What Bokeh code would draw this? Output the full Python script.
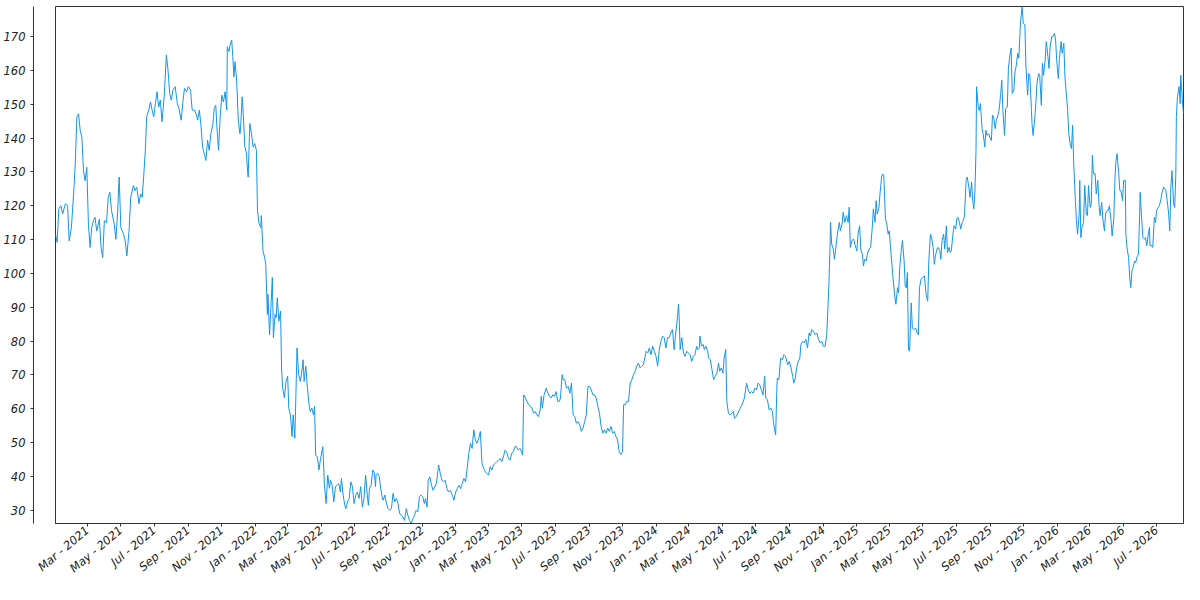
import pandas as pd
from bokeh.plotting import figure
from bokeh.layouts import row
from bokeh.models import (Range1d, LinearAxis, SingleIntervalTicker,
                          MonthsTicker, DatetimeTickFormatter, ColumnDataSource)
from bokeh.embed import file_html
from bokeh.resources import INLINE

start_date = "2021-01-02"

# (days since start_date, value) readings, grouped by period
part_2021a = [(0,111.6),(3,109.2),(6,119.1),(10,120.0),(13,117.6),(18,120.6),(22,120.0),(25,109.6),(29,113.6),(33,123.5),(36,132.4),(39,146.3),(42,147.2),(45,142.3),(48,140.3),(51,130.4),(54,127.4),(57,131.4),(60,114.6),(63,107.7),(66,113.6),(69,115.6),(72,116.6),(75,112.6),(80,116.0),(83,107.7),(86,104.7),(89,115.6),(93,115.0),(96,122.5),(99,124.0),(102,118.6),(107,114.6),(110,110.1),(113,117.6),(116,128.5),(119,113.6),(124,111.6),(127,109.6),(130,105.2),(134,112.6),(137,122.5),(142,126.0),(145,124.5),(148,125.5),(152,120.6),(155,123.5),(158,122.5),(161,129.5),(164,137.4),(166,146.3),(170,148.3),(173,150.7),(176,148.3),(179,146.3),(182,150.2),(185,153.7),(188,149.2),(191,151.2),(194,144.8),(198,152.2),(202,164.6),(205,160.1),(208,153.2),(211,151.2),(214,154.2),(218,155.2),(222,150.2),(225,148.7),(229,145.3),(232,150.7),(235,154.7),(239,153.7),(242,155.2),(246,154.2),(249,148.3),(253,148.3),(256,147.2),(259,145.3),(262,148.3),(265,143.8),(268,137.4),(271,135.4),(274,133.4),(277,139.4),(280,136.4),(283,141.3),(287,144.3)]

part_2021b = [(289,148.7),(292,149.7),(294,143.3),(297,136.4),(300,146.3),(303,152.7),(306,150.7),(309,153.7),(312,148.3),(313,167.0),(316,165.6),(318,167.5),(321,169.0),(323,164.1),(325,158.1),(327,162.6),(330,157.2),(333,145.3),(336,141.3),(337,142.3),(340,152.2),(342,147.3),(345,137.4),(348,135.4),(349,132.4),(351,128.5),(354,144.3),(357,141.3),(360,137.4),(363,138.4),(366,136.4),(368,118.6),(371,114.6),(374,113.6),(375,117.1),(378,106.7),(381,104.7),(383,102.7),(386,87.9),(387,93.8),(390,81.9),(393,91.8),(395,98.8),(397,81.0),(400,87.9),(402,86.9),(404,92.8),(407,85.9),(410,88.9),(412,71.1),(414,66.1),(417,63.2),(420,68.1),(423,69.6),(425,60.2),(428,58.2),(431,51.8),(433,58.2),(436,51.3),(438,64.2),(440,78.0),(443,70.1),(446,68.1),(448,70.1),(451,74.5),(453,68.1),(456,72.6),(459,66.1),(462,61.2),(464,59.2),(467,60.2),(470,58.2),(472,60.7),(474,46.3),(477,45.8),(480,41.9),(483,45.4),(487,48.8),(490,37.4),(493,32.0),(496,40.4),(499,36.5),(501,38.9),(504,37.4),(507,32.5),(510,37.0),(513,37.4),(516,37.9),(519,35.4),(521,39.4),(524,34.5),(527,31.5),(529,30.5),(532,32.5),(535,33.5),(538,38.4),(541,37.0),(544,32.0),(547,34.5),(550,35.4),(553,33.5),(556,37.0),(559,31.0),(562,33.5),(565,40.4),(568,34.5),(570,31.5),(572,36.5),(575,37.4),(578,41.9),(581,41.0),(583,37.0)]

part_2022 = [(584,40.4),(587,40.9),(590,39.9),(592,36.9),(595,34.0),(597,33.0),(600,34.5),(603,32.0),(606,30.5),(609,30.0),(612,30.5),(615,35.0),(618,32.5),(621,33.5),(624,32.0),(627,29.0),(630,28.5),(633,28.0),(636,27.0),(639,30.5),(642,28.5),(645,27.0),(648,26.1),(651,27.5),(654,28.5),(657,30.0),(660,29.5),(663,34.0),(666,34.5),(669,34.0),(672,32.0),(674,33.5),(677,31.0),(679,38.9),(682,39.9),(685,37.4),(688,35.9),(691,36.9),(694,37.9),(698,43.4),(701,40.9),(704,38.9),(707,38.4),(710,38.9),(713,36.4),(716,35.4),(719,35.9),(723,34.5),(726,33.0),(729,35.4),(732,36.4),(735,37.4),(738,36.4),(741,37.9),(744,39.4),(747,38.4),(750,42.4),(753,46.8),(756,49.8),(759,48.3),(762,53.8),(765,50.8),(768,49.8),(771,51.3),(774,53.3),(777,43.9),(780,42.4),(783,41.4),(786,40.9),(789,40.4),(792,42.9),(795,41.9),(798,43.4),(801,43.9),(804,44.4),(807,44.8),(810,45.3),(813,44.4),(816,45.8),(819,47.8),(822,47.3),(825,45.3),(828,44.8),(831,46.8),(834,47.3),(837,48.8),(840,48.8),(843,47.8),(846,48.3),(849,47.3),(851,46.3),(853,64.1),(856,63.2),(859,62.2),(862,61.2),(865,60.7),(868,60.2),(871,58.7),(874,59.2)]

part_2023 = [(877,58.2),(880,57.7),(883,59.7),(885,63.7),(887,60.2),(890,64.1),(894,66.1),(897,64.6),(900,63.7),(903,63.2),(906,64.1),(909,63.7),(912,65.1),(915,62.2),(918,62.2),(920,63.2),(923,70.1),(925,68.6),(928,68.6),(931,66.1),(934,66.6),(937,64.6),(940,67.6),(943,58.2),(946,57.7),(949,55.7),(952,56.2),(955,55.3),(958,53.3),(961,54.3),(964,56.2),(967,58.2),(970,66.6),(973,66.6),(976,65.6),(979,64.1),(982,64.1),(985,63.2),(988,60.7),(991,58.7),(994,54.8),(997,52.8),(1000,53.8),(1003,52.8),(1006,54.3),(1009,53.3),(1012,54.8),(1015,52.8),(1018,53.3),(1021,51.8),(1024,50.8),(1027,47.3),(1030,46.5),(1033,47.3),(1035,61.2),(1038,61.2),(1041,62.2),(1044,62.2),(1047,67.6),(1050,68.6),(1053,70.1),(1056,71.1),(1059,72.6),(1062,73.5),(1065,72.1),(1068,72.6),(1071,73.0),(1076,77.0),(1079,76.5),(1082,78.0),(1085,76.0),(1088,78.5),(1091,77.0),(1094,75.5),(1097,72.6),(1100,77.5),(1103,80.0),(1106,81.5),(1109,81.0),(1112,78.0),(1115,81.0),(1118,81.0),(1121,82.4),(1124,83.4),(1127,77.5),(1130,82.4),(1133,86.9),(1135,90.9),(1136,87.9),(1138,77.5),(1141,81.0),(1144,76.5),(1147,75.5),(1150,77.0),(1153,76.5),(1156,76.0),(1159,74.0),(1162,75.5),(1165,76.0),(1168,78.5)]

part_2024 = [(1170,77.5),(1173,78.0),(1174,81.5),(1177,78.5),(1180,79.0),(1182,77.5),(1185,78.5),(1188,77.0),(1190,75.0),(1193,74.5),(1196,71.6),(1199,68.6),(1202,69.6),(1205,70.6),(1208,73.5),(1210,71.1),(1213,72.1),(1216,70.6),(1218,75.0),(1221,77.5),(1223,62.2),(1226,58.7),(1229,58.2),(1232,58.7),(1235,59.2),(1237,57.2),(1240,57.7),(1243,58.7),(1246,59.7),(1249,60.7),(1252,61.7),(1255,63.2),(1259,67.6),(1262,65.6),(1265,64.6),(1268,65.1),(1271,64.6),(1274,66.1),(1277,65.6),(1280,67.6),(1283,67.1),(1286,65.6),(1289,64.1),(1292,69.6),(1294,63.2),(1297,62.7),(1300,59.7),(1303,60.2),(1306,59.2),(1308,56.2),(1310,53.8),(1312,52.3),(1314,65.1),(1315,69.1),(1318,68.6),(1321,75.0),(1324,74.5),(1327,76.0),(1330,75.5),(1334,73.0),(1337,74.0),(1340,72.1),(1343,69.6),(1345,67.6),(1348,69.1),(1350,72.1),(1353,74.0),(1356,75.0),(1358,79.0),(1361,80.0),(1364,79.5),(1367,80.5),(1370,78.0),(1373,82.4),(1375,81.5),(1378,83.4),(1381,82.9),(1384,81.9),(1387,82.4),(1390,80.5),(1393,79.5),(1396,80.0),(1399,78.5),(1402,78.5),(1405,81.5),(1407,88.9),(1409,96.8),(1411,107.7),(1412,115.1),(1414,108.7),(1417,107.2),(1419,104.2),(1421,106.7),(1424,111.1),(1428,115.1),(1430,112.6),(1433,114.6),(1435,118.1),(1438,115.1),(1441,117.1),(1444,115.1),(1446,119.6),(1448,107.7),(1451,109.7),(1454,110.2),(1457,108.2),(1460,106.7)]

part_2025 = [(1462,111.6),(1465,114.1),(1467,107.2),(1470,105.7),(1472,102.2),(1474,104.2),(1477,103.7),(1479,105.7),(1482,107.2),(1485,107.7),(1488,113.6),(1490,119.1),(1493,115.1),(1495,121.5),(1497,117.6),(1500,119.1),(1502,123.5),(1505,128.5),(1507,129.4),(1509,128.9),(1512,116.1),(1514,115.1),(1517,111.6),(1519,112.6),(1521,108.2),(1524,102.2),(1526,98.3),(1529,93.3),(1531,90.9),(1534,95.8),(1536,94.3),(1538,101.7),(1541,107.2),(1543,109.7),(1546,103.7),(1548,96.3),(1550,95.8),(1552,100.3),(1554,77.5),(1556,77.0),(1559,91.3),(1561,83.9),(1564,83.4),(1567,83.9),(1570,82.4),(1572,81.9),(1574,95.8),(1577,98.3),(1580,98.8),(1583,99.3),(1586,93.8),(1589,91.8),(1591,103.7),(1594,111.6),(1596,110.6),(1599,107.7),(1601,102.7),(1603,105.2),(1606,107.2),(1608,107.7),(1611,106.7),(1613,104.2),(1615,109.7),(1618,111.6),(1620,107.2),(1623,114.1),(1625,106.2),(1628,107.7),(1630,106.2),(1632,106.7),(1635,111.6),(1637,114.1),(1640,113.1),(1642,116.1),(1644,116.6),(1647,115.1),(1649,113.1),(1652,115.1),(1654,115.6),(1656,117.1),(1659,127.5),(1661,128.5),(1664,125.5),(1666,122.5),(1669,127.0),(1671,121.5),(1673,119.1),(1675,124.0),(1677,136.4),(1678,155.2),(1681,149.2),(1683,148.2),(1685,150.2),(1688,142.8),(1690,141.3),(1693,137.4),(1695,142.3),(1697,140.8),(1700,141.3),(1702,140.3),(1705,139.3),(1707,146.8),(1709,146.3),(1712,142.8),(1714,145.3),(1717,146.8),(1719,148.2),(1722,153.2),(1724,157.1),(1726,148.2),(1729,140.8),(1731,148.7),(1734,149.2),(1736,160.6),(1738,163.6),(1741,166.6),(1743,153.2),(1746,154.2),(1748,159.6),(1750,161.1),(1753,165.1)]

part_2026 = [(1755,163.6),(1758,174.0),(1761,178.9),(1763,174.0),(1766,173.5),(1768,161.1),(1771,152.7),(1773,159.1),(1775,158.6),(1778,148.2),(1779,144.3),(1781,140.8),(1784,145.8),(1786,150.2),(1788,156.2),(1791,159.1),(1793,158.6),(1796,149.7),(1798,162.1),(1800,158.6),(1803,163.1),(1805,168.5),(1808,164.1),(1810,160.6),(1812,167.0),(1815,170.0),(1817,170.0),(1820,171.0),(1822,169.0),(1824,163.1),(1827,157.6),(1829,163.6),(1832,168.5),(1834,165.1),(1837,168.0),(1839,158.1),(1841,154.2),(1844,148.2),(1846,141.3),(1849,137.9),(1851,136.9),(1853,143.8),(1855,132.4),(1858,121.5),(1860,115.6),(1862,111.6),(1865,117.6),(1866,127.5),(1868,110.6),(1870,113.6),(1873,115.1),(1875,126.0),(1878,117.6),(1880,117.1),(1882,126.0),(1885,119.5),(1887,120.5),(1889,134.9),(1891,129.5),(1894,129.5),(1896,123.5),(1899,127.5),(1901,120.5),(1903,117.1),(1906,121.0),(1908,116.1),(1911,112.6),(1913,117.6),(1916,118.6),(1918,118.6),(1920,120.0),(1923,115.6),(1925,111.1),(1928,116.1),(1930,127.5),(1932,133.4),(1934,135.4),(1937,129.5),(1939,124.5),(1941,124.5),(1944,121.5),(1946,127.5),(1949,127.5),(1950,111.6),(1952,107.7),(1955,104.7),(1957,98.8),(1959,95.8),(1961,100.8),(1963,101.7),(1966,103.7),(1968,103.2),(1970,104.7),(1973,105.7),(1975,116.6),(1976,124.0),(1979,115.6),(1981,110.6),(1984,110.1),(1986,110.6),(1988,108.2),(1991,111.6),(1993,113.6),(1994,108.2),(1997,108.2),(1999,107.7),(2002,116.6),(2004,115.1),(2006,118.6),(2009,119.5),(2011,120.0),(2014,122.0),(2016,124.0),(2019,125.5),(2021,125.0),(2023,124.5),(2026,120.5),(2028,117.6),(2030,112.6),(2032,125.5),(2034,130.4),(2037,120.5),(2039,119.5),(2041,129.5),(2042,146.3),(2044,152.2),(2047,155.2),(2049,150.2),(2050,158.6),(2053,151.2),(2055,147.2)]

y_tick_interval = 10
x_tick_months = [0, 2, 4, 6, 8, 10]   # Jan, Mar, May, Jul, Sep, Nov
x_tick_format = "%b - %Y"

readings = part_2021a + part_2021b + part_2022 + part_2023 + part_2024 + part_2025 + part_2026
days = [d for d, _ in readings]
values = [v for _, v in readings]
dates = pd.to_datetime(start_date) + pd.to_timedelta(days, unit="D")

source = ColumnDataSource(data=dict(date=dates, value=values))

LINE = "#1496e6"
AXIS = "#333333"
TEXT = "#222222"
FONT = "DejaVu Sans"
H, TOP, BOTTOM = 584, 6, 61

y_range = Range1d(min(values), max(values))

# narrow panel carrying only the offset y axis
ya_fig = figure(width=34, height=H, output_backend="svg", toolbar_location=None,
                x_range=Range1d(0, 1), y_range=y_range,
                x_axis_location=None, y_axis_location=None,
                min_border_left=33, min_border_right=0,
                min_border_top=TOP, min_border_bottom=BOTTOM)
ya_fig.outline_line_color = None
ya_fig.background_fill_color = "white"
ya_fig.border_fill_color = "white"
ya_fig.xgrid.visible = False
ya_fig.ygrid.visible = False

yaxis = LinearAxis(ticker=SingleIntervalTicker(interval=y_tick_interval))
yaxis.axis_line_color = AXIS
yaxis.major_tick_line_color = AXIS
yaxis.minor_tick_line_color = None
yaxis.major_tick_out = 3
yaxis.major_tick_in = 0
yaxis.major_label_standoff = 4
yaxis.major_label_text_font = FONT
yaxis.major_label_text_font_style = "italic"
yaxis.major_label_text_font_size = "11.5px"
yaxis.major_label_text_color = TEXT
ya_fig.add_layout(yaxis, "left")

# main chart (its left border leaves room for the first rotated date label)
p = figure(width=1150, height=H, output_backend="svg", toolbar_location=None,
           x_axis_type="datetime", y_axis_location=None,
           x_range=Range1d(dates.min(), dates.max()), y_range=y_range,
           min_border_left=21, min_border_right=1,
           min_border_top=TOP, min_border_bottom=BOTTOM)
p.background_fill_color = "white"
p.border_fill_color = "white"
p.outline_line_color = AXIS
p.outline_line_width = 1
p.xgrid.visible = False
p.ygrid.visible = False

xa = p.xaxis[0]
xa.ticker = MonthsTicker(months=x_tick_months)
xa.formatter = DatetimeTickFormatter(days=x_tick_format, months=x_tick_format,
                                     years=x_tick_format)
xa.axis_line_color = AXIS
xa.major_tick_line_color = AXIS
xa.minor_tick_line_color = None
xa.major_tick_out = 3
xa.major_tick_in = 0
xa.major_label_standoff = 2
xa.major_label_orientation = 0.7
xa.major_label_text_font = FONT
xa.major_label_text_font_style = "italic"
xa.major_label_text_font_size = "11.5px"
xa.major_label_text_color = TEXT

p.line("date", "value", source=source, line_color=LINE, line_width=1)

layout = row(ya_fig, p, spacing=0)
open("out.html", "w").write(file_html(layout, INLINE))
